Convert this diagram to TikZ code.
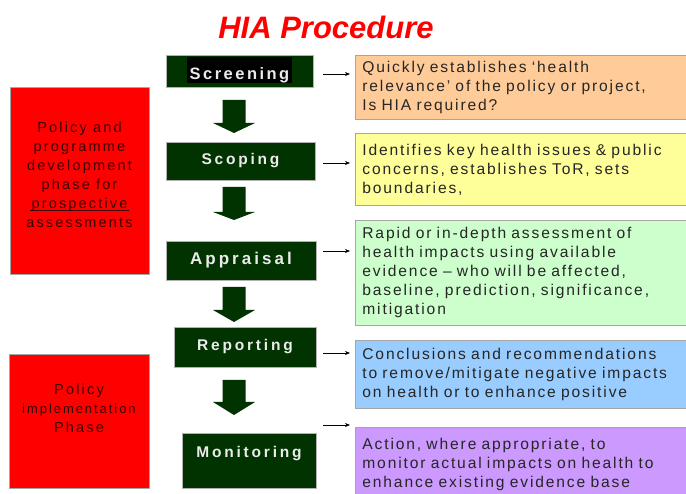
\documentclass[tikz,border=0pt]{standalone}
\usepackage{fontspec}
\setmainfont{Liberation Sans}
\newfontfamily\descfont[LetterSpace=12]{Liberation Sans}
\newfontfamily\stepfont[LetterSpace=18]{Liberation Sans}
\newfontfamily\scrfont[LetterSpace=15]{Liberation Sans}
\newfontfamily\redfont[LetterSpace=15]{Liberation Sans}
\usetikzlibrary{arrows.meta}
\definecolor{stepgreen}{RGB}{0,51,0}
\definecolor{orangebox}{RGB}{255,204,153}
\definecolor{yellowbox}{RGB}{255,255,153}
\definecolor{greenbox}{RGB}{204,255,204}
\definecolor{bluebox}{RGB}{153,204,255}
\definecolor{purplebox}{RGB}{204,153,255}
\definecolor{redtext}{RGB}{60,0,0}
\definecolor{steptext}{RGB}{235,235,235}
\tikzset{
  stepbox/.style={fill=stepgreen, draw=gray!60, line width=0.6pt, inner sep=0pt,
    text=steptext, font=\stepfont\bfseries\fontsize{15.5}{18}\selectfont},
  infobox/.style={anchor=north west, draw=gray!70, line width=0.7pt, minimum width=345pt,
    text width=331pt, inner xsep=7pt, inner ysep=0pt, align=left,
    font=\descfont\fontsize{15.6}{19}\selectfont, text=black!85},
  redbox/.style={fill=red, draw=gray!70, line width=0.7pt, inner sep=0pt, align=center,
    text=redtext, font=\redfont\fontsize{14.5}{19}\selectfont},
  smallarrow/.style={-{Stealth[length=5pt,width=4pt]}, line width=0.7pt, black},
  blockarrow/.style={fill=stepgreen, draw=none}
}
\newcommand\blockarr[3]{% #1 top, #2 neck, #3 tip
  \fill[blockarrow] (222.5,#1) -- (245.5,#1) -- (245.5,#2) -- (255,#2) -- (234,#3) -- (213,#2) -- (222.5,#2) -- cycle;}
\begin{document}
\begin{tikzpicture}[x=1pt,y=-1pt]
\useasboundingbox (0,0) rectangle (686,494);
\begin{scope}
\clip (0,0) rectangle (686,494);

% title
\node[text=red, font=\bfseries\itshape\fontsize{31}{33}\selectfont] (title) at (326,27) {HIA Procedure};

% red phase boxes
\node[redbox, minimum width=139pt, minimum height=187pt] (phase1) at (79.5,180.5) {};
\node[redbox, fill=none, draw=none] (phase1t) at (79.5,175) {Policy and\\programme\\development\\phase for\\prospective\\assessments};
\coordinate (ul1) at (30,210); \coordinate (ul2) at (129,210);
\draw[redtext, line width=0.9pt] (ul1) -- (ul2);
\node[redbox, minimum width=140pt, minimum height=134pt] (phase2) at (79,421) {};
\node[redbox, fill=none, draw=none] (phase2t) at (79,408) {Policy\\{\fontsize{13}{19}\selectfont implementation}\\Phase};

% step boxes
\node[stepbox, minimum width=147pt, minimum height=32pt] (scr) at (239.5,71) {};
\node[fill=black, inner sep=0pt, minimum width=105pt, minimum height=26pt] (scrbg) at (239.5,70) {};
\node[inner sep=0pt, text=steptext, font=\scrfont\bfseries\fontsize{16.5}{18}\selectfont] (scrt) at (239.5,75) {Screening};
\node[stepbox, minimum width=149pt, minimum height=38pt] (sco) at (240.5,161) {Scoping};
\node[stepbox, minimum width=150pt, minimum height=39pt, font=\stepfont\bfseries\fontsize{17}{20}\selectfont] (app) at (241,260.5) {Appraisal};
\node[stepbox, minimum width=142pt, minimum height=40pt] (rep) at (245,347) {Reporting};
\node[stepbox, minimum width=134pt, minimum height=55pt] (mon) at (249,460.5) {};
\node[text=steptext, font=\stepfont\bfseries\fontsize{15.5}{18}\selectfont, inner sep=0pt] (mont) at (249,454) {Monitoring};

% block arrows
\blockarr{100}{123}{133}
\blockarr{187}{212}{220}
\blockarr{287}{310}{322}
\blockarr{380}{402}{415}

% description boxes
\node[infobox, fill=orangebox, minimum height=64pt] (d1) at (355,55) {Quickly establishes ‘health\\relevance’ of the policy or project,\\Is HIA required?};
\node[infobox, fill=yellowbox, minimum height=72pt] (d2) at (355,133) {Identifies key health issues \& public\\concerns, establishes ToR, sets\\boundaries,};
\node[infobox, fill=greenbox, minimum height=105pt] (d3) at (355,220) {Rapid or in-depth assessment of\\health impacts using available\\evidence – who will be affected,\\baseline, prediction, significance,\\mitigation};
\node[infobox, fill=bluebox, minimum height=68pt] (d4) at (355,340) {Conclusions and recommendations\\to remove/mitigate negative impacts\\on health or to enhance positive};
\node[infobox, fill=purplebox, minimum height=74pt] (d5) at (355,427) {Action, where appropriate, to\\monitor actual impacts on health to\\enhance existing evidence base};

% small arrows
\coordinate (a1s) at (323,74);  \coordinate (a1e) at (350,74);
\coordinate (a2s) at (323,163); \coordinate (a2e) at (350,163);
\coordinate (a3s) at (323,251); \coordinate (a3e) at (350,251);
\coordinate (a4s) at (323,353); \coordinate (a4e) at (350,353);
\coordinate (a5s) at (323,425); \coordinate (a5e) at (350,425);
\draw[smallarrow] (a1s) -- (a1e);
\draw[smallarrow] (a2s) -- (a2e);
\draw[smallarrow] (a3s) -- (a3e);
\draw[smallarrow] (a4s) -- (a4e);
\draw[smallarrow] (a5s) -- (a5e);
\end{scope}
\end{tikzpicture}
\end{document}
